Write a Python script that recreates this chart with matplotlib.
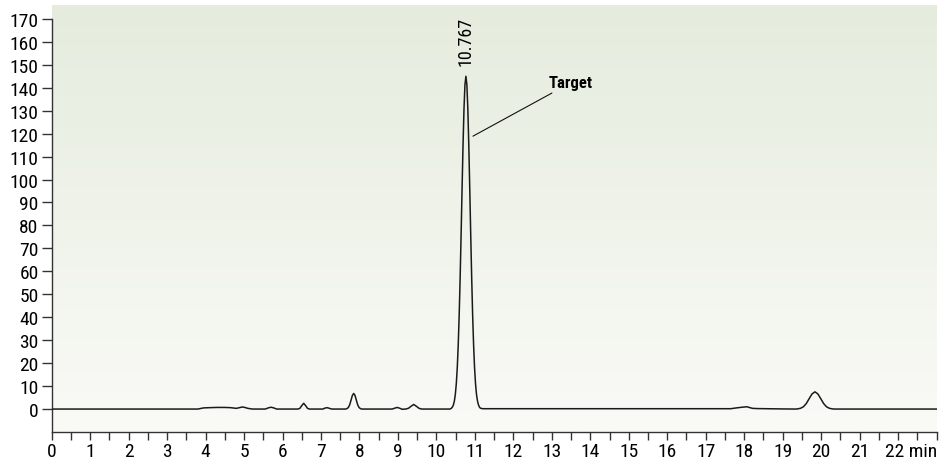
import matplotlib
matplotlib.use("Agg")
import matplotlib.pyplot as plt
import numpy as np
from matplotlib.colors import LinearSegmentedColormap

plt.rcParams['font.family'] = ['Roboto Condensed', 'Roboto', 'DejaVu Sans']

# chromatogram trace (time in min, signal)
time = [0.0, 3.8, 3.95, 4.1, 4.3, 4.5, 4.65, 4.8, 4.88, 4.95, 5.02, 5.1, 5.22,
        5.55, 5.63, 5.7, 5.77, 5.85, 6.4, 6.45, 6.5, 6.55, 6.6, 6.65, 6.7,
        7.05, 7.1, 7.16, 7.22, 7.28,
        7.64, 7.675, 7.71, 7.745, 7.78, 7.815, 7.85, 7.885, 7.92, 7.955, 7.99,
        8.025, 8.06, 8.1,
        8.85, 8.92, 8.98, 9.04, 9.11, 9.2, 9.27, 9.34, 9.41, 9.48, 9.55, 9.62,
        10.342, 10.367, 10.392, 10.417, 10.442, 10.467, 10.492, 10.517, 10.542,
        10.567, 10.592, 10.617, 10.642, 10.667, 10.692, 10.717, 10.742, 10.767,
        10.792, 10.817, 10.842, 10.867, 10.892, 10.917, 10.942, 10.967, 10.992,
        11.017, 11.042, 11.067, 11.092, 11.117, 11.142, 11.2,
        17.65, 17.8, 17.95, 18.07, 18.15, 18.22, 18.35, 19.0,
        19.34, 19.39, 19.465, 19.54, 19.615, 19.69, 19.765, 19.84, 19.915,
        19.99, 20.065, 20.14, 20.215, 20.29, 20.34, 23.0]
signal = [0.0, 0.0, 0.5, 0.6, 0.7, 0.7, 0.6, 0.3, 0.6, 0.9, 0.7, 0.3, 0.0,
          0.0, 0.5, 0.8, 0.5, 0.0, 0.0, 0.3, 1.5, 2.5, 1.5, 0.3, 0.0,
          0.0, 0.4, 0.6, 0.3, 0.0,
          0.0, 0.2, 0.66, 1.8, 3.8, 5.9, 6.8, 5.9, 3.8, 1.8, 0.66,
          0.2, 0.0, 0.0,
          0.0, 0.4, 0.7, 0.4, -0.1, 0.0, 0.3, 1.2, 2.0, 1.2, 0.3, 0.0,
          0.0, 0.1, 0.4, 0.9, 1.8, 3.5, 6.4, 11.0, 17.9,
          27.8, 40.9, 57.2, 76.0, 95.9, 114.9, 130.8, 141.3, 145.0,
          141.3, 130.8, 114.9, 95.9, 76.0, 57.2, 40.9, 27.8, 17.9,
          11.0, 6.4, 3.6, 1.9, 0.9, 0.4, 0.15,
          0.15, 0.5, 0.8, 1.0, 0.6, 0.3, 0.2, 0.05,
          0.0, 0.08, 0.33, 1.0, 2.4, 4.55, 6.6, 7.5, 6.6,
          4.55, 2.4, 1.0, 0.33, 0.08, 0.0, 0.0]

peak_time = 10.767
peak_label = "10.767"
y_ticks = list(range(0, 180, 10))
x_major = list(range(0, 23))
x_minor = [i * 0.5 for i in range(0, 47)]

fig = plt.figure(figsize=(9.4, 4.6), dpi=100)
ax = fig.add_axes([0.055, 0.0587, 0.9413, 0.928])

# soft green-to-white background
cmap = LinearSegmentedColormap.from_list("bg", ["#fafaf7", "#e5ecdd"])
grad = np.linspace(0, 1, 256).reshape(-1, 1)
ax.imshow(grad, extent=[0, 23, -10, 176], aspect='auto', cmap=cmap,
          origin='lower', zorder=0)

ax.plot(time, signal, color='#1a1a1a', lw=1.1, zorder=3)

ax.set_xlim(0, 23)
ax.set_ylim(-10, 176)

for s in ['top', 'right']:
    ax.spines[s].set_visible(False)
for s in ['left', 'bottom']:
    ax.spines[s].set_color('#333333')
    ax.spines[s].set_linewidth(1.0)
ax.spines['left'].set_bounds(-10, 170)

ax.set_yticks(y_ticks)
ax.set_yticklabels([str(v) for v in y_ticks])
ax.tick_params(axis='y', direction='out', length=7.5, width=1, color='#333333',
               labelsize=14, pad=2)

ax.set_xticks(x_minor, minor=True)
ax.set_xticks(x_major)
ax.set_xticklabels([str(v) for v in x_major[:-1]] + [""])
ax.tick_params(axis='x', which='both', direction='out', length=5.5, width=1,
               color='#333333', labelsize=14, pad=1.5)
ax.tick_params(axis='x', which='minor', labelbottom=False)
ax.annotate("22 min", xy=(23.02, 0), xycoords=('data', 'axes fraction'),
            xytext=(0, -7), textcoords='offset points', ha='right', va='top',
            fontsize=14, annotation_clip=False)

ax.text(peak_time, 150, peak_label, rotation=90, ha='center', va='bottom',
        fontsize=13)
ax.annotate("Target", xy=(10.95, 118.9), xytext=(12.92, 138.9),
            fontsize=12, fontweight='bold', ha='left', va='bottom',
            arrowprops=dict(arrowstyle='-', color='#111111', lw=0.8,
                            shrinkA=0, shrinkB=0))

fig.savefig("out.png", dpi=100)
